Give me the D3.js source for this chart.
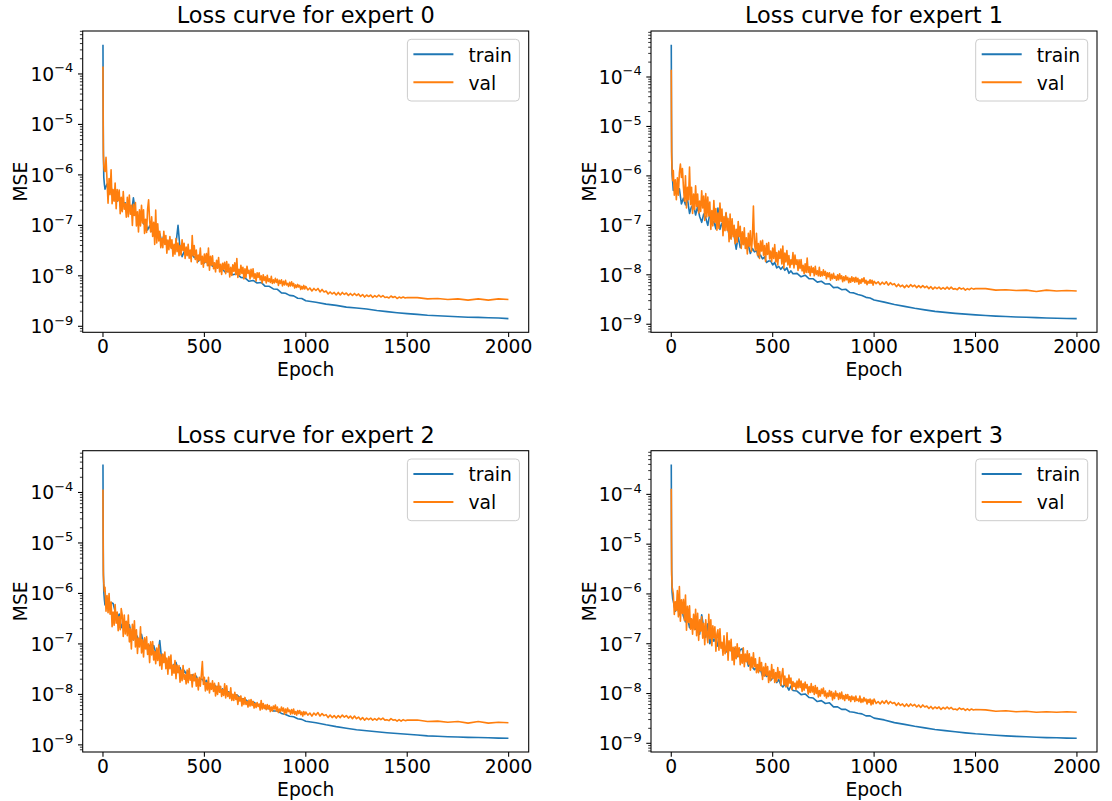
<!DOCTYPE html>
<html><head><meta charset="utf-8">
<script src="https://cdn.jsdelivr.net/npm/d3@7"></script>
<style>
body{margin:0;background:#fff}
svg{display:block}
text{font-family:"DejaVu Sans",sans-serif;fill:#000}
</style>
</head><body>
<svg id="chart" width="1112" height="801"></svg>
<script>
// ---------------- data ----------------
// epochs at which the train curves are sampled
const trainEpochs = [0,1,2,4,7,
 10,20,30,40,50,60,70,80,90,100,
 110,120,130,140,150,160,170,180,190,200,
 210,220,230,240,250,260,270,280,290,300,
 310,320,330,340,350,360,370,380,390,400,
 410,420,430,440,450,460,470,480,490,500,
 510,520,530,540,550,560,570,580,590,600,
 620,640,660,680,700,720,740,760,780,800,
 820,840,860,880,900,920,940,960,980,1000,
 1050,1100,1150,1200,1250,1300,1350,1400,1450,1500,
 1550,1600,1650,1700,1750,1800,1850,1900,1950,1999];

// epochs at which the (noisier) val curves are sampled
const valEpochs = [0,1,2,4,7,
 10,15,20,25,30,35,40,45,50,55,60,65,70,75,80,85,90,95,100,105,
 110,115,120,125,130,135,140,145,150,155,160,165,170,175,180,185,190,195,200,205,
 210,215,220,225,230,235,240,245,250,255,260,265,270,275,280,285,290,295,300,305,
 310,315,320,325,330,335,340,345,350,355,360,365,370,375,380,385,390,395,400,405,
 410,415,420,425,430,435,440,445,450,455,460,465,470,475,480,485,490,495,500,505,
 510,515,520,525,530,535,540,545,550,555,560,565,570,575,580,585,590,595,600,
 605,610,615,620,625,630,635,640,645,650,655,660,665,670,675,680,685,690,695,700,
 705,710,715,720,725,730,735,740,745,750,755,760,765,770,775,780,785,790,795,800,
 805,810,815,820,825,830,835,840,845,850,855,860,865,870,875,880,885,890,895,900,
 905,910,915,920,925,930,935,940,945,950,955,960,965,970,975,980,985,990,995,1000,
 1010,1020,1030,1040,1050,1060,1070,1080,1090,1100,1110,1120,1130,1140,1150,1160,1170,1180,1190,1200,
 1210,1220,1230,1240,1250,1260,1270,1280,1290,1300,1310,1320,1330,1340,1350,1360,1370,1380,1390,1400,
 1410,1420,1430,1440,1450,1460,1470,1480,1490,1500,
 1550,1600,1650,1700,1750,1800,1850,1900,1950,1999];

const train0 = [3.8e-4,2.0e-5,3.2e-6,9.0e-7,6.5e-7,
 5.2e-7,6.6e-7,4.7e-7,5.9e-7,3.2e-7,4.0e-7,3.0e-7,3.7e-7,2.0e-7,2.7e-7,
 2.8e-7,1.9e-7,2.6e-7,1.7e-7,3.5e-7,1.8e-7,1.5e-7,1.1e-7,1.66e-7,1.07e-7,
 1.17e-7,8.1e-8,9.8e-8,7.6e-8,9.8e-8,7.1e-8,5.9e-8,6.8e-8,4.7e-8,6.2e-8,
 5.1e-8,4.2e-8,5.0e-8,3.5e-8,3.9e-8,4.3e-8,1.0e-7,3.4e-8,2.4e-8,3.0e-8,
 2.7e-8,2.95e-8,2.3e-8,2.6e-8,2.3e-8,2.5e-8,1.95e-8,2.1e-8,2.1e-8,1.8e-8,
 2.0e-8,1.6e-8,1.7e-8,1.55e-8,1.7e-8,1.5e-8,1.6e-8,1.26e-8,1.38e-8,1.2e-8,
 1.23e-8,1.05e-8,1.1e-8,9.3e-9,9.1e-9,7.8e-9,8.1e-9,7.2e-9,7.4e-9,6.2e-9,
 6.2e-9,5.5e-9,5.4e-9,4.6e-9,4.5e-9,4.1e-9,4.0e-9,3.6e-9,3.55e-9,3.2e-9,
 3.0e-9,2.75e-9,2.6e-9,2.4e-9,2.3e-9,2.2e-9,2.05e-9,1.95e-9,1.86e-9,1.78e-9,
 1.72e-9,1.66e-9,1.62e-9,1.58e-9,1.55e-9,1.51e-9,1.5e-9,1.48e-9,1.46e-9,1.42e-9];

const val0 = [1.4e-4,1.2e-5,2.5e-6,1.5e-6,1.2e-6,
 1.17e-6,2.24e-6,7.6e-7,2.75e-7,8.5e-7,4.07e-7,1.26e-6,2.69e-7,5.13e-7,3.0e-7,
 6.9e-7,2.14e-7,5.13e-7,3.09e-7,5.0e-7,1.7e-7,3.6e-7,1.86e-7,4.68e-7,2.1e-7,
 2.69e-7,1.45e-7,3.6e-7,1.48e-7,4.0e-7,1.66e-7,2.5e-7,1.0e-7,2.6e-7,1.58e-7,
 2.82e-7,9.77e-8,1.86e-7,7.41e-8,2.04e-7,9.77e-8,2.5e-7,1.12e-7,2.04e-7,6.9e-8,
 1.32e-7,7.2e-8,2.1e-7,3.2e-7,1.26e-7,7.41e-8,1.48e-7,6.0e-8,1.15e-7,4.2e-8,
 2.0e-7,4.47e-8,1.07e-7,4.9e-8,7.6e-8,3.6e-8,5.5e-8,3.6e-8,7.6e-8,4.2e-8,
 6.3e-8,2.82e-8,5.13e-8,3.3e-8,6.0e-8,3.55e-8,5.2e-8,2.45e-8,4.2e-8,2.69e-8,
 5.5e-8,3.0e-8,4.47e-8,2.5e-8,4.0e-8,2.6e-8,5.2e-8,3.2e-8,4.4e-8,2.2e-8,
 3.72e-8,2.5e-8,4.2e-8,2.24e-8,3.24e-8,1.91e-8,6.3e-8,2.5e-8,4.0e-8,2.1e-8,
 3.24e-8,1.82e-8,2.57e-8,2.04e-8,3.55e-8,1.7e-8,2.45e-8,1.48e-8,2.69e-8,1.86e-8,
 2.75e-8,1.58e-8,3.55e-8,1.29e-8,2.45e-8,1.62e-8,2.5e-8,1.38e-8,1.82e-8,1.2e-8,
 2.04e-8,1.41e-8,2.3e-8,1.2e-8,1.7e-8,1.07e-8,1.78e-8,1.35e-8,1.86e-8,
 1.1e-8,1.91e-8,1.2e-8,1.7e-8,9.55e-9,1.48e-8,1.02e-8,1.66e-8,1.23e-8,1.82e-8,
 1.05e-8,2.19e-8,9.33e-9,1.35e-8,1.05e-8,1.62e-8,1.12e-8,1.48e-8,8.71e-9,1.38e-8,
 9.33e-9,1.55e-8,1.12e-8,1.29e-8,8.71e-9,1.35e-8,9.55e-9,1.38e-8,8.91e-9,1.1e-8,
 7.94e-9,1.15e-8,9.33e-9,1.15e-8,8.32e-9,1.0e-8,7.24e-9,1.05e-8,8.13e-9,9.55e-9,
 7.24e-9,1.02e-8,7.76e-9,8.71e-9,7.41e-9,9.77e-9,7.08e-9,8.32e-9,7.24e-9,8.91e-9,
 7.41e-9,8.51e-9,6.46e-9,8.13e-9,7.08e-9,8.32e-9,6.31e-9,7.76e-9,6.61e-9,8.13e-9,
 6.61e-9,7.08e-9,6.17e-9,7.41e-9,6.31e-9,7.59e-9,6.31e-9,7.08e-9,5.75e-9,6.61e-9,
 5.89e-9,6.76e-9,6.03e-9,6.46e-9,5.37e-9,6.17e-9,5.5e-9,6.46e-9,5.5e-9,6.17e-9,
 5.25e-9,5.75e-9,5.0e-9,5.62e-9,5.13e-9,5.62e-9,4.79e-9,5.37e-9,4.79e-9,5.0e-9,
 4.37e-9,4.79e-9,4.37e-9,4.68e-9,4.17e-9,4.68e-9,4.17e-9,4.68e-9,4.27e-9,4.57e-9,
 4.07e-9,4.47e-9,4.07e-9,4.47e-9,4.07e-9,4.37e-9,3.89e-9,4.27e-9,3.8e-9,4.17e-9,
 3.89e-9,4.17e-9,3.72e-9,4.07e-9,3.8e-9,4.17e-9,3.8e-9,4.07e-9,3.72e-9,3.8e-9,
 3.63e-9,3.98e-9,3.72e-9,3.89e-9,3.55e-9,3.8e-9,3.63e-9,3.8e-9,3.63e-9,3.72e-9,
 3.7e-9,3.5e-9,3.55e-9,3.4e-9,3.5e-9,3.3e-9,3.5e-9,3.3e-9,3.5e-9,3.4e-9];

const train1 = [4.5e-4,2.2e-5,3.0e-6,1.1e-6,7.5e-7,
 5.1e-7,6.5e-7,4.4e-7,5.5e-7,2.7e-7,3.55e-7,2.6e-7,3.4e-7,1.74e-7,2.4e-7,
 2.6e-7,1.62e-7,2.4e-7,1.51e-7,1.15e-7,1.7e-7,1.41e-7,1.0e-7,1.7e-7,1.07e-7,
 1.2e-7,8.5e-8,2.24e-7,8.3e-8,1.1e-7,8.1e-8,1.74e-7,7.9e-8,5.5e-8,7.4e-8,
 6.2e-8,3.3e-8,5.9e-8,3.55e-8,4.6e-8,5.0e-8,3.5e-8,3.9e-8,2.7e-8,3.4e-8,
 2.9e-8,3.1e-8,2.3e-8,2.5e-8,2.1e-8,2.3e-8,1.78e-8,1.9e-8,1.9e-8,1.58e-8,
 1.78e-8,1.38e-8,1.48e-8,1.29e-8,1.45e-8,1.23e-8,1.38e-8,1.07e-8,1.2e-8,1.05e-8,
 1.07e-8,9.1e-9,9.8e-9,8.3e-9,8.3e-9,7.1e-9,7.4e-9,6.5e-9,6.6e-9,5.5e-9,
 5.6e-9,5.0e-9,5.1e-9,4.4e-9,4.3e-9,4.0e-9,3.8e-9,3.5e-9,3.4e-9,3.1e-9,
 2.8e-9,2.5e-9,2.3e-9,2.1e-9,1.95e-9,1.82e-9,1.74e-9,1.66e-9,1.6e-9,1.55e-9,
 1.5e-9,1.46e-9,1.43e-9,1.4e-9,1.38e-9,1.36e-9,1.34e-9,1.32e-9,1.31e-9,1.3e-9];

const val1 = [1.4e-4,1.1e-5,2.2e-6,1.3e-6,8.0e-7,
 1.29e-6,4.07e-7,8.3e-7,3.3e-7,9.1e-7,4.07e-7,1.17e-6,1.74e-6,9.33e-7,1.41e-6,
 5.89e-7,3.09e-7,1.0e-6,2.24e-7,5.89e-7,3.3e-7,1.51e-6,2.63e-7,5.89e-7,1.74e-7,
 4.27e-7,2.1e-7,6.3e-7,2.4e-7,4.27e-7,1.78e-7,3.09e-7,1.91e-7,5.0e-7,2.24e-7,
 3.89e-7,1.26e-7,4.37e-7,1.48e-7,3.72e-7,1.55e-7,2.95e-7,8.3e-8,2.0e-7,9.77e-8,
 3.16e-7,1.15e-7,2.19e-7,7.94e-8,1.78e-7,8.7e-8,2.82e-7,1.2e-7,2.14e-7,6.17e-8,
 1.51e-7,7.76e-8,1.82e-7,7.94e-8,1.38e-7,4.68e-8,1.7e-7,5.25e-8,1.35e-7,5.89e-8,
 1.0e-7,4.27e-8,8.3e-8,4.57e-8,1.2e-7,5.89e-8,9.55e-8,3.39e-8,7.41e-8,4.07e-8,
 8.91e-8,3.39e-8,5.62e-8,2.63e-8,6.9e-8,3.8e-8,7.76e-8,2.95e-8,5.62e-8,2.45e-7,
 4.27e-8,3.09e-8,6.9e-8,2.5e-8,4.27e-8,2.14e-8,4.79e-8,3.02e-8,5.0e-8,2.5e-8,
 3.89e-8,1.86e-8,4.27e-8,2.57e-8,4.47e-8,2.09e-8,3.02e-8,1.86e-8,3.47e-8,2.14e-8,
 4.07e-8,1.82e-8,2.82e-8,1.58e-8,3.02e-8,2.14e-8,3.31e-8,1.66e-8,3.8e-8,1.38e-8,
 2.75e-8,1.82e-8,3.09e-8,1.58e-8,2.45e-8,1.41e-8,2.0e-8,1.62e-8,2.82e-8,
 1.38e-8,2.51e-8,1.62e-8,2.0e-8,1.23e-8,2.0e-8,1.35e-8,2.04e-8,1.2e-8,1.55e-8,
 1.05e-8,1.66e-8,1.12e-8,2.19e-8,1.12e-8,1.45e-8,9.55e-9,1.48e-8,1.12e-8,1.38e-8,
 9.55e-9,1.48e-8,1.02e-8,1.2e-8,9.55e-9,1.41e-8,9.33e-9,1.15e-8,9.55e-9,1.26e-8,
 9.77e-9,1.17e-8,8.32e-9,1.1e-8,9.12e-9,1.1e-8,7.76e-9,1.02e-8,8.32e-9,1.07e-8,
 8.51e-9,9.33e-9,7.76e-9,1.0e-8,7.94e-9,1.05e-8,8.32e-9,9.55e-9,7.24e-9,9.12e-9,
 7.59e-9,9.55e-9,7.94e-9,8.91e-9,6.92e-9,8.51e-9,7.08e-9,9.12e-9,7.41e-9,8.71e-9,
 7.08e-9,8.91e-9,7.24e-9,8.51e-9,6.46e-9,7.94e-9,6.76e-9,8.32e-9,7.24e-9,8.71e-9,
 6.76e-9,7.76e-9,6.31e-9,7.41e-9,6.76e-9,7.94e-9,6.76e-9,7.76e-9,6.17e-9,7.41e-9,
 6.61e-9,7.24e-9,6.31e-9,7.08e-9,6.46e-9,7.24e-9,6.17e-9,6.92e-9,6.31e-9,6.61e-9,
 5.75e-9,6.46e-9,5.75e-9,6.17e-9,5.5e-9,6.17e-9,5.62e-9,6.31e-9,5.75e-9,6.17e-9,
 5.5e-9,6.03e-9,5.5e-9,6.03e-9,5.5e-9,5.89e-9,5.25e-9,5.75e-9,5.13e-9,5.62e-9,
 5.25e-9,5.62e-9,5.13e-9,5.5e-9,5.13e-9,5.62e-9,5.13e-9,5.62e-9,5.13e-9,5.25e-9,
 5.0e-9,5.5e-9,5.13e-9,5.37e-9,4.9e-9,5.25e-9,5.0e-9,5.37e-9,5.13e-9,5.25e-9,
 5.25e-9,4.9e-9,5.0e-9,4.8e-9,4.9e-9,4.6e-9,4.9e-9,4.7e-9,4.8e-9,4.7e-9];

const train2 = [3.6e-4,1.8e-5,2.8e-6,1.1e-6,7.5e-7,
 5.9e-7,7.2e-7,5.2e-7,6.6e-7,6.3e-7,4.4e-7,3.2e-7,3.9e-7,2.1e-7,2.7e-7,
 2.75e-7,1.78e-7,2.4e-7,1.58e-7,1.2e-7,1.62e-7,1.38e-7,1.0e-7,1.55e-7,1.0e-7,
 1.1e-7,7.6e-8,9.3e-8,7.2e-8,9.3e-8,6.8e-8,5.6e-8,1.17e-7,4.5e-8,5.9e-8,
 5.0e-8,4.1e-8,4.9e-8,3.4e-8,3.9e-8,4.3e-8,3.0e-8,3.4e-8,2.4e-8,3.0e-8,
 2.6e-8,2.9e-8,2.24e-8,2.45e-8,2.14e-8,2.3e-8,1.82e-8,2.0e-8,2.0e-8,1.7e-8,
 1.9e-8,1.48e-8,1.58e-8,1.38e-8,1.55e-8,1.32e-8,1.48e-8,1.15e-8,1.29e-8,1.12e-8,
 1.12e-8,9.5e-9,9.8e-9,8.3e-9,8.1e-9,6.9e-9,7.2e-9,6.2e-9,6.3e-9,5.25e-9,
 5.25e-9,4.7e-9,4.7e-9,4.2e-9,4.0e-9,3.7e-9,3.6e-9,3.3e-9,3.2e-9,2.95e-9,
 2.75e-9,2.5e-9,2.3e-9,2.14e-9,2.0e-9,1.9e-9,1.82e-9,1.74e-9,1.68e-9,1.62e-9,
 1.57e-9,1.51e-9,1.48e-9,1.45e-9,1.43e-9,1.41e-9,1.4e-9,1.38e-9,1.36e-9,1.35e-9];

const val2 = [1.15e-4,1.0e-5,2.3e-6,1.6e-6,1.1e-6,
 1.32e-6,4.47e-7,9.12e-7,4.17e-7,1.0e-6,3.89e-7,6.76e-7,2.19e-7,4.27e-7,2.34e-7,
 6.03e-7,2.57e-7,4.27e-7,1.82e-7,3.47e-7,1.91e-7,5.0e-7,3.72e-7,1.41e-7,3.72e-7,
 1.58e-7,2.82e-7,1.45e-7,3.72e-7,1.1e-7,2.0e-7,7.94e-8,2.45e-7,1.2e-7,2.88e-7,
 8.7e-8,1.91e-7,6.46e-8,1.29e-7,8.7e-8,2.19e-7,6.61e-8,1.2e-7,5.5e-8,1.32e-7,
 7.94e-8,1.38e-7,6.17e-8,1.0e-7,4.27e-8,1.1e-7,6.03e-8,1.12e-7,4.79e-8,7.08e-8,
 4.07e-8,8.32e-8,4.68e-8,9.55e-8,3.72e-8,6.17e-8,3.16e-8,6.3e-8,4.27e-8,6.92e-8,
 3.24e-8,5.25e-8,2.51e-8,5.62e-8,3.24e-8,6.03e-8,2.4e-8,3.8e-8,2.63e-8,4.68e-8,
 2.04e-8,3.8e-8,2.69e-8,3.72e-8,1.74e-8,3.02e-8,1.86e-8,3.72e-8,2.0e-8,2.45e-8,
 1.62e-8,3.02e-8,1.7e-8,3.24e-8,1.91e-8,2.45e-8,1.41e-8,2.51e-8,1.86e-8,2.63e-8,
 1.45e-8,2.09e-8,1.23e-8,2.19e-8,1.45e-8,2.45e-8,4.47e-8,1.58e-8,2.19e-8,1.17e-8,
 1.7e-8,1.23e-8,2.19e-8,1.07e-8,1.66e-8,1.26e-8,1.86e-8,1.15e-8,1.66e-8,9.33e-9,
 1.45e-8,1.0e-8,1.7e-8,1.1e-8,1.45e-8,9.12e-9,1.23e-8,9.55e-9,1.62e-8,
 8.51e-9,1.48e-8,9.12e-9,1.1e-8,8.32e-9,1.35e-8,7.59e-9,1.0e-8,7.59e-9,1.1e-8,
 7.94e-9,9.77e-9,6.31e-9,8.91e-9,7.41e-9,9.33e-9,5.89e-9,8.32e-9,6.31e-9,8.71e-9,
 6.31e-9,7.24e-9,5.62e-9,7.76e-9,5.89e-9,7.94e-9,6.03e-9,7.24e-9,5.37e-9,6.61e-9,
 5.5e-9,6.92e-9,5.75e-9,6.46e-9,4.9e-9,7.59e-9,5.13e-9,6.61e-9,5.25e-9,6.17e-9,
 5.0e-9,6.31e-9,5.13e-9,6.03e-9,4.57e-9,5.62e-9,4.68e-9,5.89e-9,5.13e-9,6.17e-9,
 4.68e-9,5.62e-9,4.37e-9,5.13e-9,4.57e-9,5.62e-9,4.68e-9,5.37e-9,4.07e-9,5.13e-9,
 4.27e-9,5.37e-9,4.57e-9,4.9e-9,4.07e-9,5.0e-9,4.17e-9,5.13e-9,4.07e-9,4.57e-9,
 3.89e-9,4.79e-9,4.17e-9,4.79e-9,3.98e-9,4.47e-9,3.72e-9,4.57e-9,3.98e-9,4.47e-9,
 3.89e-9,4.27e-9,3.72e-9,4.27e-9,3.89e-9,4.37e-9,3.72e-9,4.17e-9,3.8e-9,3.98e-9,
 3.47e-9,3.89e-9,3.47e-9,3.8e-9,3.39e-9,3.8e-9,3.47e-9,3.89e-9,3.55e-9,3.8e-9,
 3.39e-9,3.72e-9,3.31e-9,3.72e-9,3.31e-9,3.55e-9,3.16e-9,3.47e-9,3.09e-9,3.39e-9,
 3.16e-9,3.39e-9,3.09e-9,3.31e-9,3.09e-9,3.39e-9,3.16e-9,3.39e-9,3.09e-9,3.16e-9,
 3.02e-9,3.31e-9,3.09e-9,3.16e-9,2.95e-9,3.16e-9,2.95e-9,3.16e-9,3.02e-9,3.09e-9,
 3.1e-9,2.9e-9,2.95e-9,2.8e-9,2.9e-9,2.7e-9,2.9e-9,2.7e-9,2.8e-9,2.75e-9];

const train3 = [4.0e-4,2.0e-5,3.0e-6,1.1e-6,8.0e-7,
 7.2e-7,4.5e-7,5.5e-7,3.8e-7,5.25e-7,3.55e-7,2.75e-7,3.4e-7,2.1e-7,3.1e-7,
 2.5e-7,1.95e-7,2.45e-7,1.55e-7,3.8e-7,2.1e-7,1.35e-7,2.5e-7,1.0e-7,1.41e-7,
 1.12e-7,1.35e-7,8.9e-8,1.05e-7,8.3e-8,1.0e-7,6.8e-8,8.1e-8,8.3e-8,6.5e-8,
 8.1e-8,5.25e-8,5.9e-8,7.6e-8,7.9e-8,4.5e-8,5.25e-8,3.55e-8,4.1e-8,3.4e-8,
 3.0e-8,3.3e-8,2.8e-8,3.0e-8,2.24e-8,2.5e-8,2.2e-8,2.4e-8,1.82e-8,2.04e-8,
 2.1e-8,1.66e-8,1.9e-8,1.51e-8,1.35e-8,1.51e-8,1.41e-8,1.17e-8,1.41e-8,1.15e-8,
 1.12e-8,9.5e-9,9.8e-9,8.3e-9,8.1e-9,6.9e-9,7.2e-9,6.3e-9,6.5e-9,5.4e-9,
 5.4e-9,4.8e-9,4.8e-9,4.3e-9,4.2e-9,4.0e-9,3.9e-9,3.55e-9,3.55e-9,3.2e-9,
 2.95e-9,2.6e-9,2.4e-9,2.2e-9,2.04e-9,1.9e-9,1.8e-9,1.7e-9,1.62e-9,1.55e-9,
 1.5e-9,1.45e-9,1.41e-9,1.38e-9,1.35e-9,1.32e-9,1.3e-9,1.29e-9,1.27e-9,1.26e-9];

const val3 = [1.3e-4,1.1e-5,2.4e-6,1.4e-6,1.2e-6,
 1.0e-6,3.89e-7,6.92e-7,4.68e-7,1.17e-6,3.47e-7,1.41e-6,2.82e-7,7.59e-7,4.07e-7,
 7.76e-7,2.95e-7,9.55e-7,1.86e-7,5.62e-7,2.69e-7,5.75e-7,1.95e-7,3.16e-7,1.55e-7,
 3.89e-7,1.91e-7,4.9e-7,1.45e-7,4.07e-7,1.17e-7,3.02e-7,1.78e-7,3.47e-7,1.29e-7,
 2.57e-7,9.55e-8,3.02e-7,1.48e-7,1.05e-7,3.89e-7,1.26e-7,3.02e-7,9.12e-8,2.29e-7,
 1.32e-7,2.19e-7,7.08e-8,1.58e-7,1.91e-7,7.41e-8,2.0e-7,8.13e-8,1.07e-7,5.89e-8,
 1.45e-7,6.31e-8,7.24e-8,1.66e-7,4.68e-8,1.15e-7,7.24e-8,1.23e-7,4.68e-8,8.51e-8,
 3.8e-8,8.71e-8,5.0e-8,1.0e-7,5.5e-8,8.32e-8,3.8e-8,6.03e-8,4.07e-8,8.32e-8,
 3.47e-8,6.17e-8,4.37e-8,7.24e-8,3.89e-8,6.31e-8,2.95e-8,5.37e-8,3.31e-8,6.61e-8,
 3.47e-8,5.0e-8,2.63e-8,3.8e-8,2.63e-8,5.25e-8,2.88e-8,4.17e-8,1.91e-8,3.39e-8,
 2.24e-8,3.98e-8,2.34e-8,3.47e-8,1.66e-8,2.82e-8,1.82e-8,3.8e-8,2.04e-8,3.02e-8,
 1.66e-8,2.63e-8,1.74e-8,3.31e-8,2.04e-8,2.75e-8,1.45e-8,2.34e-8,3.16e-8,1.51e-8,
 2.24e-8,1.35e-8,2.0e-8,1.41e-8,2.34e-8,1.62e-8,2.04e-8,1.2e-8,1.74e-8,
 1.38e-8,1.62e-8,1.2e-8,1.78e-8,1.29e-8,1.95e-8,1.32e-8,1.78e-8,1.1e-8,1.58e-8,
 1.17e-8,1.7e-8,1.29e-8,1.51e-8,9.77e-9,1.38e-8,1.05e-8,1.58e-8,1.07e-8,1.38e-8,
 9.55e-9,1.45e-8,1.0e-8,1.32e-8,8.51e-9,1.15e-8,8.91e-9,1.23e-8,1.0e-8,1.29e-8,
 8.91e-9,1.12e-8,8.13e-9,1.02e-8,8.71e-9,1.15e-8,8.91e-9,1.1e-8,7.41e-9,1.02e-8,
 7.94e-9,1.12e-8,8.91e-9,1.0e-8,7.59e-9,1.02e-8,7.94e-9,1.07e-8,7.76e-9,9.12e-9,
 7.24e-9,9.55e-9,7.94e-9,9.55e-9,7.41e-9,8.71e-9,6.92e-9,8.91e-9,7.59e-9,8.51e-9,
 6.92e-9,8.91e-9,7.24e-9,7.76e-9,6.92e-9,8.91e-9,6.61e-9,7.76e-9,6.76e-9,8.32e-9,
 7.08e-9,7.76e-9,6.17e-9,7.59e-9,6.61e-9,7.76e-9,5.89e-9,7.41e-9,6.17e-9,7.76e-9,
 6.31e-9,6.92e-9,6.17e-9,7.08e-9,6.31e-9,7.24e-9,6.17e-9,6.92e-9,6.31e-9,6.61e-9,
 5.75e-9,6.46e-9,5.75e-9,6.17e-9,5.5e-9,6.17e-9,5.5e-9,6.17e-9,5.62e-9,6.03e-9,
 5.37e-9,5.89e-9,5.25e-9,5.89e-9,5.37e-9,5.62e-9,5.0e-9,5.5e-9,4.9e-9,5.37e-9,
 5.0e-9,5.37e-9,4.79e-9,5.25e-9,4.9e-9,5.37e-9,4.9e-9,5.25e-9,4.79e-9,4.9e-9,
 4.68e-9,5.13e-9,4.79e-9,5.0e-9,4.57e-9,4.9e-9,4.57e-9,4.9e-9,4.68e-9,4.79e-9,
 4.7e-9,4.4e-9,4.5e-9,4.3e-9,4.4e-9,4.2e-9,4.3e-9,4.2e-9,4.3e-9,4.2e-9];

const titles = ["Loss curve for expert 0","Loss curve for expert 1","Loss curve for expert 2","Loss curve for expert 3"];
const seriesLabels = ["train","val"];
const xTickValues = [0,500,1000,1500,2000];
const xLabel = "Epoch";
const yLabel = "MSE";
const seriesColors = ["#1f77b4","#ff7f0e"];

// ---------------- layout ----------------
const trains = [train0,train1,train2,train3];
const vals = [val0,val1,val2,val3];
const origins = [[82.7,31],[651,31],[82.7,450.7],[651,450.7]];
const W = 446, H = 301.3;
const FS = 18.7, TFS = 22.4;

const svg = d3.select("#chart");
function supMinus(n){ return "\u2212" + Math.abs(n); }

for (let p = 0; p < 4; p++) {
  const [ox, oy] = origins[p];
  const g = svg.append("g").attr("transform", `translate(${ox},${oy})`);
  const series = [
    {values: trains[p], ep: trainEpochs},
    {values: vals[p], ep: valEpochs}
  ];

  const allE = trainEpochs.concat(valEpochs);
  const xmin = d3.min(allE), xmax = d3.max(allE);
  const xm = (xmax - xmin) * 0.05;
  const x = d3.scaleLinear().domain([xmin - xm, xmax + xm]).range([0, W]);

  const all = trains[p].concat(vals[p]);
  const lo = Math.log10(d3.min(all)), hi = Math.log10(d3.max(all));
  const r = hi - lo;
  const y = d3.scaleLog().domain([Math.pow(10, lo - 0.05*r), Math.pow(10, hi + 0.05*r)]).range([H, 0]);
  const [d0, d1] = y.domain();

  series.forEach((s, k) => {
    const line = d3.line().x((d,i) => x(s.ep[i])).y(d => y(d));
    g.append("path").datum(s.values).attr("d", line)
      .attr("fill","none").attr("stroke", seriesColors[k])
      .attr("stroke-width", 1.6).attr("stroke-linejoin","round");
  });

  g.append("rect").attr("x",0).attr("y",0).attr("width",W).attr("height",H)
    .attr("fill","none").attr("stroke","#000").attr("stroke-width",1.07);

  xTickValues.forEach(v => {
    const px = x(v);
    g.append("line").attr("x1",px).attr("x2",px).attr("y1",H).attr("y2",H+4.7)
      .attr("stroke","#000").attr("stroke-width",1.07);
    g.append("text").attr("x",px).attr("y",H+20.8).attr("text-anchor","middle")
      .attr("font-size",FS).text(v);
  });

  const majors = [];
  for (let e = Math.ceil(Math.log10(d0)); e <= Math.floor(Math.log10(d1)); e++) majors.push(e);
  majors.forEach(e => {
    const py = y(Math.pow(10, e));
    g.append("line").attr("x1",-4.7).attr("x2",0).attr("y1",py).attr("y2",py)
      .attr("stroke","#000").attr("stroke-width",1.07);
    const t = g.append("text").attr("x",-9.3).attr("y",py+6.9).attr("text-anchor","end")
      .attr("font-size",FS);
    t.append("tspan").text("10");
    t.append("tspan").attr("dy",-8.6).attr("font-size",13).text(supMinus(e));
  });
  for (let e = Math.floor(Math.log10(d0)); e <= Math.ceil(Math.log10(d1)); e++) {
    for (let m = 2; m <= 9; m++) {
      const v = m * Math.pow(10, e);
      if (v < d0 || v > d1) continue;
      const py = y(v);
      g.append("line").attr("x1",-2.8).attr("x2",0).attr("y1",py).attr("y2",py)
        .attr("stroke","#000").attr("stroke-width",0.8);
    }
  }

  g.append("text").attr("x",W/2).attr("y",-7.6).attr("text-anchor","middle")
    .attr("font-size",TFS).text(titles[p]);
  g.append("text").attr("x",W/2).attr("y",H+44).attr("text-anchor","middle")
    .attr("font-size",FS).text(xLabel);
  g.append("text").attr("transform",`translate(${-55.5},${H/2}) rotate(-90)`)
    .attr("text-anchor","middle").attr("font-size",FS).text(yLabel);

  const lw = 112, lh = 61.7;
  const lx = W - 9.3 - lw, ly = 8.3;
  const lg = g.append("g").attr("transform",`translate(${lx},${ly})`);
  lg.append("rect").attr("x",0).attr("y",0).attr("width",lw).attr("height",lh)
    .attr("rx",3.7).attr("ry",3.7).attr("fill","#fff").attr("fill-opacity",0.8)
    .attr("stroke","#cccccc").attr("stroke-width",1);
  seriesLabels.forEach((lab, k) => {
    const cy = 15 + k*28;
    lg.append("line").attr("x1",6).attr("x2",46).attr("y1",cy).attr("y2",cy)
      .attr("stroke",seriesColors[k]).attr("stroke-width",2);
    lg.append("text").attr("x",61).attr("y",cy+7.3).attr("font-size",FS).text(lab);
  });
}
</script>
</body></html>
